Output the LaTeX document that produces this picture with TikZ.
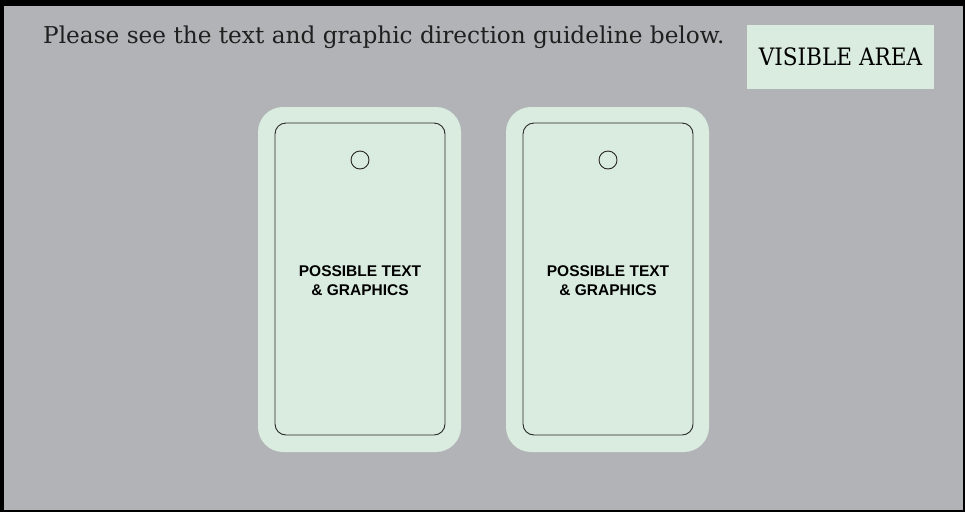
\documentclass[tikz,border=0pt]{standalone}
\usepackage{fontspec}
\usepackage{xcolor}
\setmainfont{DejaVu Serif}
\newfontfamily\boxfont{DejaVu Serif Condensed}
\newfontfamily\tagfont{Liberation Sans}
\definecolor{panelgray}{RGB}{177,179,182}
\definecolor{mint}{RGB}{218,236,224}
\tikzset{
	outertag/.style={fill=mint, rounded corners=25pt, minimum width=203pt, minimum height=345pt, inner sep=0pt},
	innertag/.style={draw=black!85, line width=0.9pt, rounded corners=11pt, minimum width=170pt, minimum height=312pt, inner sep=0pt},
	hole/.style={circle, draw=black!85, line width=0.9pt, minimum size=18pt, inner sep=0pt},
	tagtext/.style={font=\tagfont\bfseries\fontsize{15.5}{19}\selectfont, align=center, inner sep=0pt, text=black}
}

\begin{document}
\begin{tikzpicture}[x=1pt,y=-1pt]
	\useasboundingbox (0,0) rectangle (965,512);
	\fill[black] (0,0) rectangle (965,512);
	\fill[panelgray] (4,6) rectangle (963,510);
	\node[anchor=base west, inner sep=0pt, text=black!88, font=\fontsize{23.2}{28}\selectfont] (title) at (43,43) {Please see the text and graphic direction guideline below.};
	\node[fill=mint, minimum width=187pt, minimum height=64pt, inner sep=0pt, font=\boxfont\fontsize{24}{28}\selectfont] (visible) at (840.5,57) {VISIBLE AREA};
	% left tag
	\node[outertag] (outerA) at (359.5,279.5) {};
	\node[innertag] (innerA) at (360,279) {};
	\node[hole] (holeA) at (360,160) {};
	\node[tagtext] (textA) at (360,281) {POSSIBLE TEXT\\\& GRAPHICS};
	% right tag
	\node[outertag] (outerB) at (607.5,279.5) {};
	\node[innertag] (innerB) at (608,279) {};
	\node[hole] (holeB) at (608,160) {};
	\node[tagtext] (textB) at (608,281) {POSSIBLE TEXT\\\& GRAPHICS};
\end{tikzpicture}
\end{document}
